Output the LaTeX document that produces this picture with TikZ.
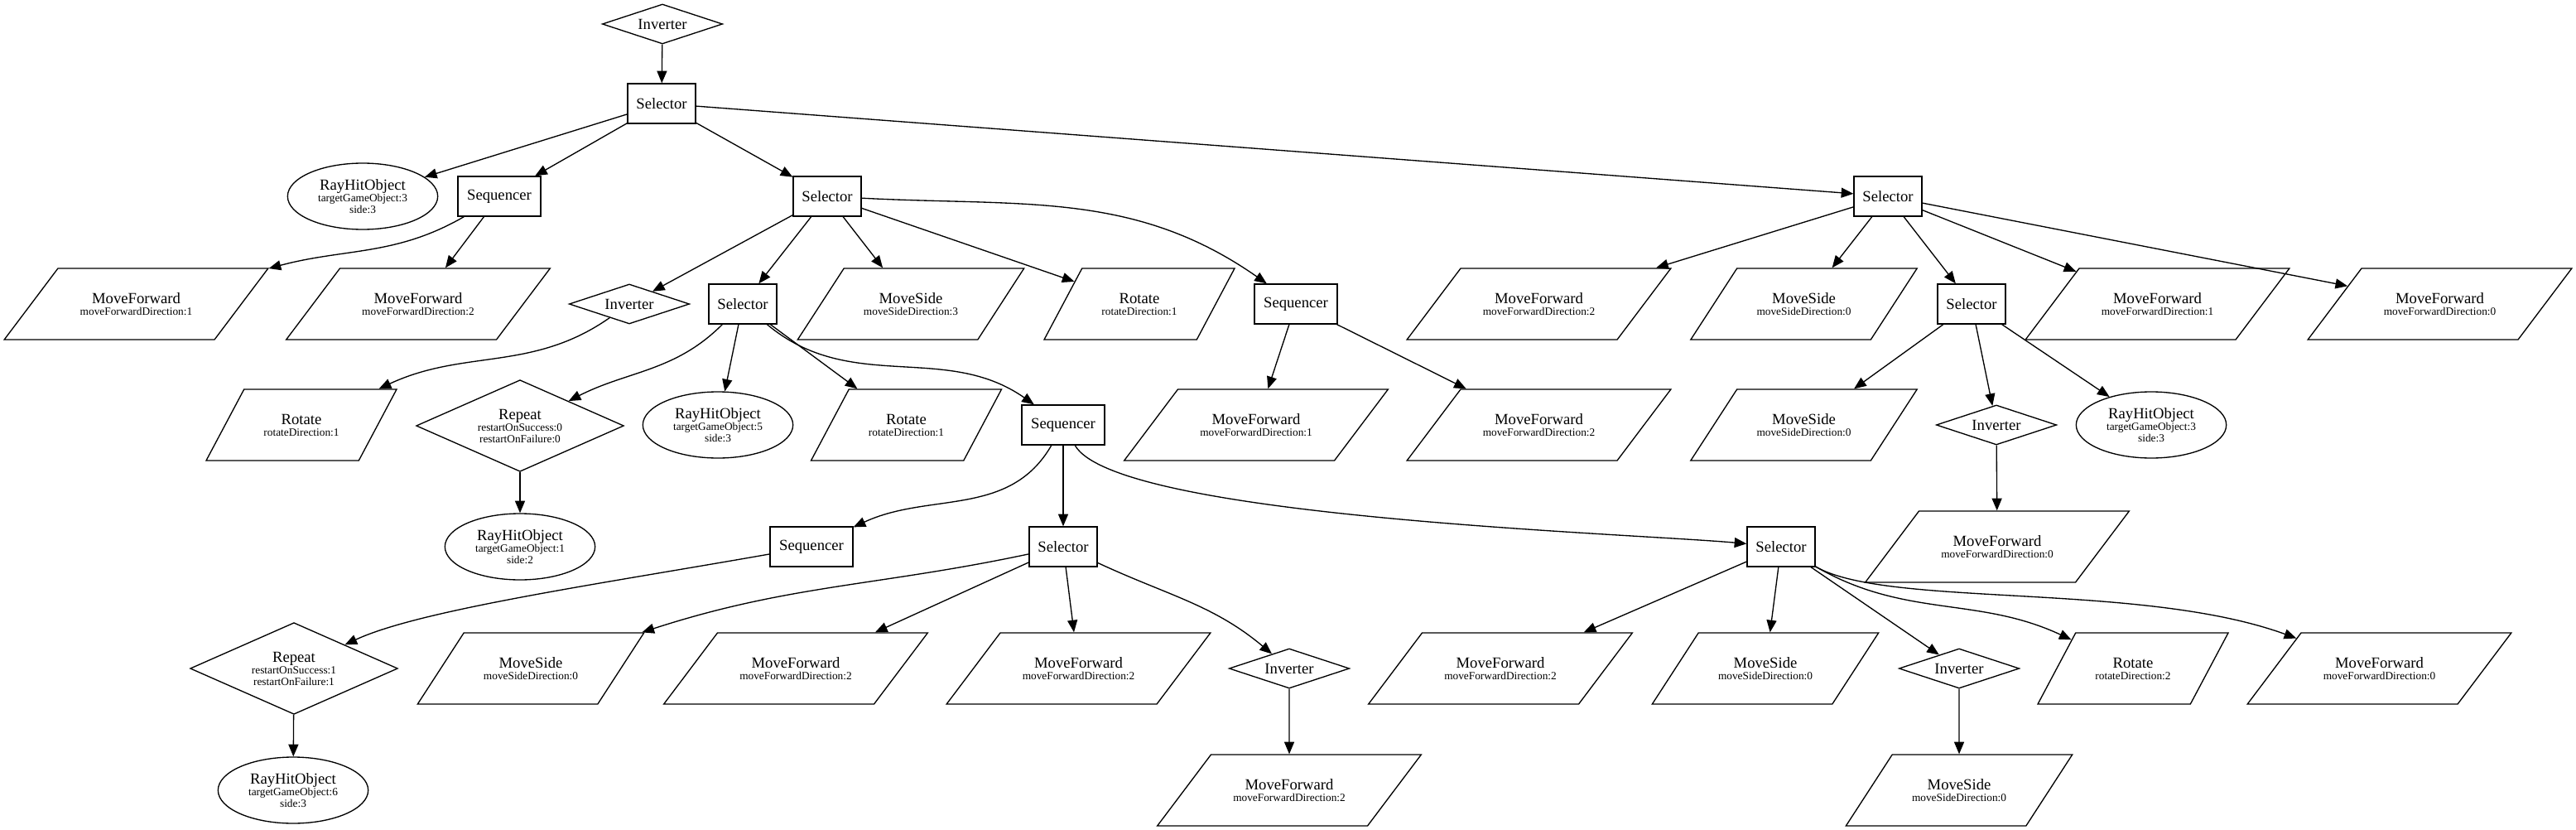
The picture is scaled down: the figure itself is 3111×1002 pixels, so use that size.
\documentclass[tikz,border=0pt]{standalone}
\usepackage{fontspec}
\setmainfont{Liberation Serif}
\usetikzlibrary{shapes.geometric,arrows.meta}
\newcommand*{\argtxt}[1]{{\fontsize{10}{10.5}\selectfont #1}}

\begin{document}
\begin{tikzpicture}[x=0.75pt, y=0.75pt,
    every node/.style={font=\fontsize{14}{10.5}\selectfont, align=center, inner sep=0pt, line width=1pt},
    box/.style={draw, rectangle, minimum height=36pt},
    selbox/.style={box, minimum width=61.5pt},
    seqbox/.style={box, minimum width=75pt},
    deco/.style={draw, diamond, aspect=3, minimum width=109pt, minimum height=36pt},
    rep/.style={draw, diamond, aspect=2.27, minimum width=188pt, minimum height=83pt},
    cond/.style={draw, ellipse, minimum width=136pt, minimum height=60pt},
    act/.style={draw, trapezium, trapezium stretches body, text height=20pt, text depth=0pt, inner ysep=22.25pt},
    mf/.style={act, minimum width=239pt, trapezium left angle=53, trapezium right angle=127},
    ms/.style={act, minimum width=205pt, trapezium left angle=57, trapezium right angle=123},
    rot/.style={act, minimum width=172.5pt, trapezium left angle=62, trapezium right angle=118},
    arr/.style={-{Triangle[length=11pt,width=9pt]}, line width=1pt},
  ]
  \useasboundingbox (0,0) rectangle (3111,-1002);

  % top
  \node[deco] (inv0) at (800,-29) {Inverter};
  \node[selbox] (sel0) at (799,-125) {Selector};

  % level 2
  \node[cond] (rh0) at (438,-237) {RayHitObject\\\argtxt{targetGameObject:3}\\\argtxt{side:3}};
  \node[seqbox] (seq1) at (603,-237) {Sequencer};
  \node[selbox] (sel1) at (999,-237) {Selector};
  \node[selbox] (sel2) at (2280,-237) {Selector};

  % level 3
  \node[mf] (mf1) at (164.5,-367) {MoveForward\\\argtxt{moveForwardDirection:1}};
  \node[mf] (mf2) at (505,-367) {MoveForward\\\argtxt{moveForwardDirection:2}};
  \node[deco] (inv1) at (760,-367) {Inverter};
  \node[selbox] (sel3) at (897,-367) {Selector};
  \node[ms] (ms3) at (1100,-367) {MoveSide\\\argtxt{moveSideDirection:3}};
  \node[rot] (rot1) at (1376,-367) {Rotate\\\argtxt{rotateDirection:1}};
  \node[seqbox] (seq2) at (1565,-367) {Sequencer};
  \node[mf] (mf3) at (1858.5,-367) {MoveForward\\\argtxt{moveForwardDirection:2}};
  \node[ms] (ms4) at (2178.5,-367) {MoveSide\\\argtxt{moveSideDirection:0}};
  \node[selbox] (sel4) at (2381,-367) {Selector};
  \node[mf] (mf4) at (2605.5,-367) {MoveForward\\\argtxt{moveForwardDirection:1}};
  \node[mf] (mf5) at (2946.5,-367) {MoveForward\\\argtxt{moveForwardDirection:0}};

  % level 4
  \node[rot] (rot2) at (364,-513) {Rotate\\\argtxt{rotateDirection:1}};
  \node[rep] (rep1) at (628,-514) {Repeat\\\argtxt{restartOnSuccess:0}\\\argtxt{restartOnFailure:0}};
  \node[cond] (rh1) at (867,-513) {RayHitObject\\\argtxt{targetGameObject:5}\\\argtxt{side:3}};
  \node[rot] (rot3) at (1094.5,-513) {Rotate\\\argtxt{rotateDirection:1}};
  \node[seqbox] (seq3) at (1284,-513) {Sequencer};
  \node[mf] (mf6) at (1517,-513) {MoveForward\\\argtxt{moveForwardDirection:1}};
  \node[mf] (mf7) at (1858.5,-513) {MoveForward\\\argtxt{moveForwardDirection:2}};
  \node[ms] (ms5) at (2178.5,-513) {MoveSide\\\argtxt{moveSideDirection:0}};
  \node[deco] (inv2) at (2411,-513) {Inverter};
  \node[cond] (rh2) at (2598,-513) {RayHitObject\\\argtxt{targetGameObject:3}\\\argtxt{side:3}};

  % level 5
  \node[cond] (rh3) at (628,-660) {RayHitObject\\\argtxt{targetGameObject:1}\\\argtxt{side:2}};
  \node[seqbox] (seq4) at (980,-660) {Sequencer};
  \node[selbox] (sel5) at (1284,-660) {Selector};
  \node[selbox] (sel6) at (2151,-660) {Selector};
  \node[mf] (mf8) at (2412,-660) {MoveForward\\\argtxt{moveForwardDirection:0}};

  % level 6
  \node[rep] (rep2) at (355,-807) {Repeat\\\argtxt{restartOnSuccess:1}\\\argtxt{restartOnFailure:1}};
  \node[ms] (ms6) at (641,-807) {MoveSide\\\argtxt{moveSideDirection:0}};
  \node[mf] (mf9) at (961,-807) {MoveForward\\\argtxt{moveForwardDirection:2}};
  \node[mf] (mf10) at (1302.5,-807) {MoveForward\\\argtxt{moveForwardDirection:2}};
  \node[deco] (inv3) at (1557,-807) {Inverter};
  \node[mf] (mf11) at (1812,-807) {MoveForward\\\argtxt{moveForwardDirection:2}};
  \node[ms] (ms7) at (2132,-807) {MoveSide\\\argtxt{moveSideDirection:0}};
  \node[deco] (inv4) at (2366,-807) {Inverter};
  \node[rot] (rot4) at (2576,-807) {Rotate\\\argtxt{rotateDirection:2}};
  \node[mf] (mf12) at (2873.5,-807) {MoveForward\\\argtxt{moveForwardDirection:0}};

  % level 7
  \node[cond] (rh4) at (354,-954) {RayHitObject\\\argtxt{targetGameObject:6}\\\argtxt{side:3}};
  \node[mf] (mf13) at (1557,-954) {MoveForward\\\argtxt{moveForwardDirection:2}};
  \node[ms] (ms8) at (2366,-954) {MoveSide\\\argtxt{moveSideDirection:0}};

  % connectors
  \draw[arr] (inv0) -- (sel0);
  \draw[arr] (sel0) -- (rh0);
  \draw[arr] (sel0) -- (seq1);
  \draw[arr] (sel0) -- (sel1);
  \draw[arr] (sel0) -- (sel2);

  \draw[arr] (seq1) to[out=-150,in=15] (mf1);
  \draw[arr] (seq1) -- (mf2);

  \draw[arr] (sel1) -- (inv1);
  \draw[arr] (sel1) -- (sel3);
  \draw[arr] (sel1) -- (ms3);
  \draw[arr] (sel1) -- (rot1);
  \draw[arr] (sel1) to[out=-3,in=145] (seq2);

  \draw[arr] (sel2) -- (mf3);
  \draw[arr] (sel2) -- (ms4);
  \draw[arr] (sel2) -- (sel4);
  \draw[arr] (sel2) -- (mf4);
  \draw[arr] (sel2) -- (mf5);

  \draw[arr] (inv1) to[out=-145,in=25] (rot2);
  \draw[arr] (sel3) to[out=-135,in=27] (rep1);
  \draw[arr] (sel3) -- (rh1);
  \draw[arr] (sel3) -- (rot3);
  \draw[arr] (sel3) to[out=-40,in=145] (seq3);

  \draw[arr] (seq2) -- (mf6);
  \draw[arr] (seq2) -- (mf7);

  \draw[arr] (sel4) -- (ms5);
  \draw[arr] (sel4) -- (inv2);
  \draw[arr] (sel4) -- (rh2);

  \draw[arr] (rep1) -- (rh3);
  \draw[arr] (seq3) to[out=-120,in=25] (seq4);
  \draw[arr] (seq3) -- (sel5);
  \draw[arr] (seq3) to[out=-60,in=175,out distance=75pt,in distance=112pt] (sel6);
  \draw[arr] (inv2) -- (mf8);

  \draw[arr] (seq4) to[out=-170,in=25,in distance=75pt] (rep2);
  \draw[arr] (sel5) to[out=-168,in=18] (ms6);
  \draw[arr] (sel5) -- (mf9);
  \draw[arr] (sel5) -- (mf10);
  \draw[arr] (sel5) to[out=-25,in=140] (inv3);

  \draw[arr] (sel6) -- (mf11);
  \draw[arr] (sel6) -- (ms7);
  \draw[arr] (sel6) -- (inv4);
  \draw[arr] (sel6) to[out=-30,in=155] (rot4);
  \draw[arr] (sel6) to[out=-30,in=160,out distance=75pt,in distance=150pt] (mf12);

  \draw[arr] (rep2) -- (rh4);
  \draw[arr] (inv3) -- (mf13);
  \draw[arr] (inv4) -- (ms8);
\end{tikzpicture}
\end{document}
